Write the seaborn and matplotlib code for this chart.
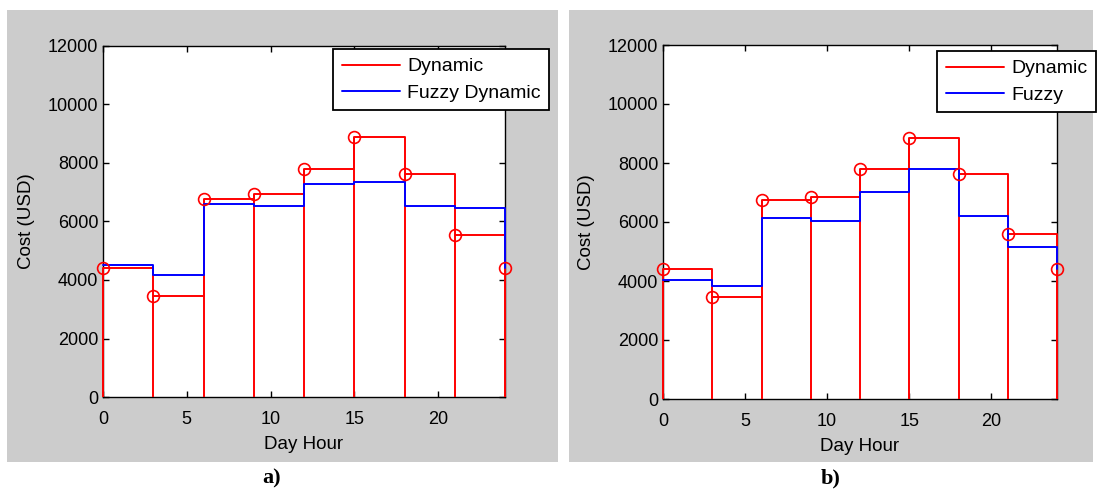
import numpy as np
import matplotlib
matplotlib.use('Agg')
import matplotlib.pyplot as plt
from matplotlib.patches import Rectangle
import seaborn as sns

# hourly cost values
hours = [0, 3, 6, 9, 12, 15, 18, 21, 24]
dynamic_a = [4400, 3440, 6770, 6930, 7810, 8890, 7610, 5530, 4400]
fuzzy_a = [4510, 4180, 6600, 6520, 7270, 7340, 6520, 6450, 4400]
dynamic_b = [4400, 3460, 6740, 6860, 7800, 8860, 7630, 5610, 4400]
fuzzy_b = [4020, 3830, 6150, 6020, 7010, 7800, 6210, 5160, 4400]

panels = [
    {'dyn': dynamic_a, 'fuzzy': fuzzy_a, 'fuzzy_label': 'Fuzzy Dynamic', 'tag': 'a)'},
    {'dyn': dynamic_b, 'fuzzy': fuzzy_b, 'fuzzy_label': 'Fuzzy', 'tag': 'b)'},
]

sns.set_theme(style='ticks')
plt.rcParams['font.family'] = ['Liberation Sans', 'DejaVu Sans']
plt.rcParams['text.color'] = 'black'
plt.rcParams['axes.labelcolor'] = 'black'

W, H = 1097, 491
fig = plt.figure(figsize=(W / 100, H / 100), dpi=100)
fig.patch.set_facecolor('white')

# gray MATLAB-style figure backgrounds (pixel boxes: left, top, right, bottom)
gray_boxes = [(7, 10, 558, 462), (569, 10, 1093, 462)]
for l, t, r, b in gray_boxes:
    fig.patches.append(Rectangle((l / W, 1 - b / H), (r - l) / W, (b - t) / H,
                                 transform=fig.transFigure, facecolor='#cccccc',
                                 edgecolor='none', zorder=-5))

axes_boxes = [(103, 46, 505, 397), (663, 45, 1057, 399)]
legend_anchor = [(333, 49), (937, 51)]
tag_pos = [(272, 478), (831, 478)]

for i, p in enumerate(panels):
    l, t, r, b = axes_boxes[i]
    ax = fig.add_axes([l / W, 1 - b / H, (r - l) / W, (b - t) / H])
    ax.set_facecolor('white')

    # stems from zero with open circles
    ax.vlines(hours, 0, p['dyn'], color='red', lw=1.4, clip_on=False, zorder=2)
    sns.lineplot(x=hours, y=p['dyn'], drawstyle='steps-post', color='red', lw=1.4,
                 estimator=None, sort=False, errorbar=None, ax=ax, clip_on=False, zorder=2)
    sns.lineplot(x=hours, y=p['fuzzy'], drawstyle='steps-post', color='blue', lw=1.4,
                 estimator=None, sort=False, errorbar=None, ax=ax, clip_on=False, zorder=3)
    ax.plot(hours, p['dyn'], 'o', ms=8.5, mfc='none', mec='red', mew=1.2,
            clip_on=False, zorder=4)

    ax.set_xlim(0, 24)
    ax.set_ylim(0, 12000)
    ax.set_xticks([0, 5, 10, 15, 20])
    ax.set_yticks(np.arange(0, 12001, 2000))
    ax.tick_params(direction='in', top=True, right=True, length=4, width=1,
                   labelsize=13, colors='black')
    ax.tick_params(axis='x', pad=10)
    ax.tick_params(axis='y', pad=3.5)
    for s in ax.spines.values():
        s.set_visible(True)
        s.set_color('black')
        s.set_linewidth(1.0)
        s.set_zorder(1)
    ax.set_xlabel('Day Hour', fontsize=13.5, labelpad=6, color='black')
    ax.set_ylabel('Cost (USD)', fontsize=13.5, labelpad=9, color='black')

    h_red = plt.Line2D([], [], color='red', lw=1.4)
    h_blue = plt.Line2D([], [], color='blue', lw=1.4)
    lx, ly = legend_anchor[i]
    lg = ax.legend([h_red, h_blue], ['Dynamic', p['fuzzy_label']], loc='upper left',
                   bbox_to_anchor=(lx / W, 1 - ly / H), bbox_transform=fig.transFigure,
                   fontsize=14, frameon=True, fancybox=False, framealpha=1,
                   edgecolor='black', handlelength=3.0, handletextpad=0.35,
                   borderpad=0.45, labelspacing=0.45, borderaxespad=0,
                   labelcolor='black')
    lg.get_frame().set_linewidth(1.3)
    lg.set_zorder(10)

    tx, ty = tag_pos[i]
    fig.text(tx / W, 1 - ty / H, p['tag'], ha='center', va='center', fontsize=16,
             fontweight='bold', color='black', family=['Liberation Serif', 'DejaVu Serif'])

fig.savefig('out.png', dpi=100, facecolor='white')
